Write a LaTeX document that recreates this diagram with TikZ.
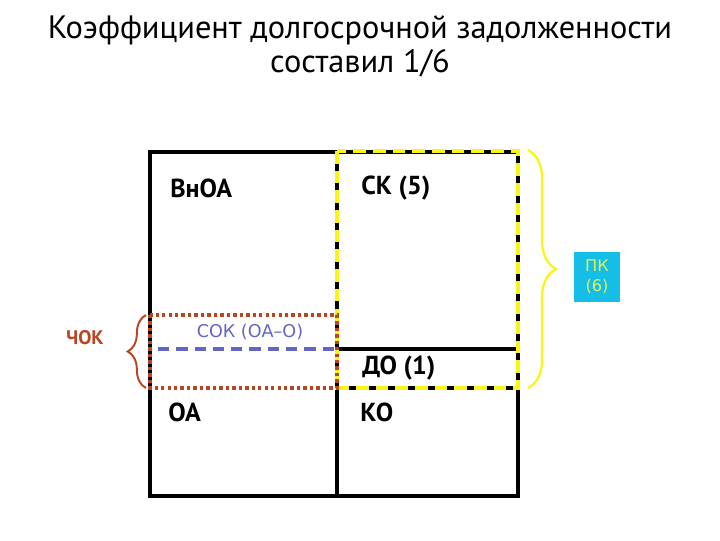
\documentclass[tikz,border=0pt]{standalone}
\usepackage{fontspec}
\setmainfont{DejaVu Sans}
\newfontfamily\titlefont{PT Sans}
\newfontfamily\cellfont{PT Sans}
\usepackage{xcolor}
\usepackage{tikz}
\usetikzlibrary{decorations.pathreplacing,positioning}

\definecolor{chokred}{RGB}{185,70,35}
\definecolor{sokblue}{RGB}{100,100,195}
\definecolor{pkcyan}{RGB}{20,190,230}
\definecolor{pkyellow}{RGB}{250,245,20}
\definecolor{pktext}{RGB}{225,240,90}

\begin{document}
\begin{tikzpicture}[
  x=0.025cm, y=-0.025cm,
  every node/.style={inner sep=0pt, font=\fontsize{16}{18}\selectfont},
  cell/.style={anchor=west, font=\cellfont\bfseries\fontsize{18.5}{21}\selectfont},
  frame/.style={draw=black, line width=2.8pt},
  pkframe/.style={draw=pkyellow, line width=2.4pt, dash pattern=on 9pt off 5pt},
  chokframe/.style={draw=chokred, line width=2.4pt, dash pattern=on 2.4pt off 2.2pt},
  sokline/.style={draw=sokblue, line width=2.4pt, dash pattern=on 8pt off 5pt},
  bracebig/.style={decorate, decoration={brace, amplitude=20pt}, draw=pkyellow, line width=1.6pt},
  bracesmall/.style={decorate, decoration={brace, amplitude=13pt}, draw=chokred, line width=1.4pt}
]
  \useasboundingbox (0,0) rectangle (720,540);

  \node[font=\titlefont\fontsize{23}{26}\selectfont] (title1) at (360,30) {Коэффициент долгосрочной задолженности};
  \node[font=\titlefont\fontsize{23}{26}\selectfont] (title2) at (360,63) {составил 1/6};

  % balance
  \draw[frame] (150,152) rectangle (518,496);
  \draw[frame] (337,152) -- (337,496);
  \draw[frame] (337,349) -- (518,349);
  \draw[frame] (337,388) -- (518,388);

  \draw[pkframe] (337,151) rectangle (518,388);
  \draw[chokframe] (150,315) rectangle (337,388);
  \draw[sokline] (158,349) -- (337,349);

  \node[cell] (vnoa) at (170,188) {ВнОА};
  \node[cell] (sk) at (361,188) {СК (5)};
  \node[cell] (do) at (362,368) {ДО (1)};
  \node[cell] (oa) at (168,412) {ОА};
  \node[cell] (ko) at (360,412) {КО};
  \node[text=sokblue, font=\fontsize{12.5}{14}\selectfont] (sok) at (250,332) {СОК (ОА–О)};

  % braces
  \coordinate (pktop) at (528,150);
  \coordinate (pkbot) at (528,388);
  \draw[bracebig] (pktop) -- (pkbot);
  \node[fill=pkcyan, text=pktext, align=center, font=\fontsize{11.5}{14}\selectfont,
        text width=1.15cm, minimum height=1.25cm] (pk) at (597,277) {ПК\\(6)};

  \coordinate (choktop) at (146,315);
  \coordinate (chokbot) at (146,388);
  \draw[bracesmall] (chokbot) -- (choktop);
  \node[text=chokred, font=\cellfont\bfseries\fontsize{14}{16}\selectfont] (chok) at (85,338) {ЧОК};
\end{tikzpicture}
\end{document}
